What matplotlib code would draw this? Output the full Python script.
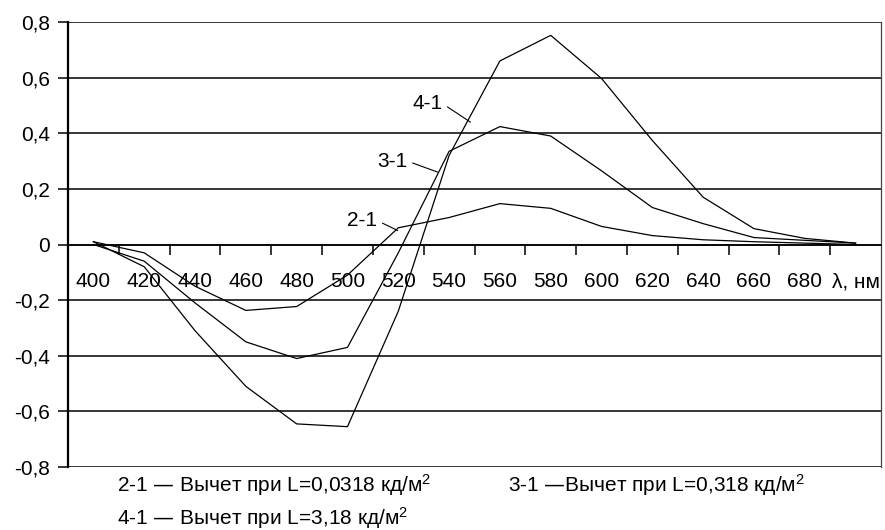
"""Difference spectra for three luminance levels (reference chart redraw)."""

import matplotlib

matplotlib.use("Agg")
import matplotlib.pyplot as plt
from matplotlib.ticker import FixedLocator, FixedFormatter

plt.rcParams["font.family"] = ["Liberation Sans", "DejaVu Sans"]
plt.rcParams["mathtext.default"] = "regular"

# categories (wavelength, nm) and the last axis caption slot
x_labels = ["400", "420", "440", "460", "480", "500", "520", "540", "560",
            "580", "600", "620", "640", "660", "680", "λ, нм"]

# series values
diff_2_1 = [0.01, -0.03, -0.15, -0.237, -0.223, -0.11, 0.06, 0.097, 0.147,
            0.13, 0.065, 0.032, 0.017, 0.01, 0.005, 0.0]
diff_3_1 = [0.0, -0.06, -0.21, -0.35, -0.41, -0.37, -0.03, 0.335, 0.424,
            0.39, 0.265, 0.133, 0.075, 0.025, 0.015, 0.005]
diff_4_1 = [0.01, -0.08, -0.31, -0.51, -0.645, -0.655, -0.24, 0.32, 0.66,
            0.752, 0.597, 0.374, 0.17, 0.057, 0.022, 0.005]

y_ticks = [-0.8, -0.6, -0.4, -0.2, 0.0, 0.2, 0.4, 0.6, 0.8]
y_tick_labels = ["-0,8", "-0,6", "-0,4", "-0,2", "0", "0,2", "0,4", "0,6", "0,8"]

legend_lines = [
    "2-1 — Вычет при L=0,0318 кд/м$^{2}$",
    "3-1 —Вычет при L=0,318 кд/м$^{2}$",
    "4-1 — Вычет при L=3,18 кд/м$^{2}$",
]

FONT = 15

fig = plt.figure(figsize=(8.85, 5.3), dpi=100)
ax = fig.add_axes([68 / 885, 63 / 530, 813 / 885, 445 / 530])

idx = list(range(len(x_labels)))
for series in (diff_2_1, diff_3_1, diff_4_1):
    ax.plot(idx, series, color="black", lw=0.9, zorder=3)

ax.set_xlim(-0.5, len(x_labels) - 0.5)
ax.set_ylim(-0.8, 0.8)

# horizontal grid lines at every y tick
ax.yaxis.set_major_locator(FixedLocator(y_ticks))
ax.yaxis.set_major_formatter(FixedFormatter(y_tick_labels))
ax.grid(axis="y", color="black", lw=1.1)
ax.set_axisbelow(True)

# category axis crossing at zero, labels between the tick marks
ax.spines["bottom"].set_position(("data", 0))
ax.spines["bottom"].set_linewidth(1.1)
ax.spines["top"].set_visible(False)
ax.spines["left"].set_linewidth(1.6)
ax.spines["right"].set_linewidth(0.9)
ax.spines["right"].set_color("#444444")
ax.xaxis.set_major_locator(FixedLocator(idx))
ax.xaxis.set_major_formatter(FixedFormatter(x_labels))
ax.xaxis.set_minor_locator(FixedLocator([i + 0.5 for i in idx[:-1]]))
ax.tick_params(axis="x", which="major", length=0, pad=20, labelsize=FONT)
ax.tick_params(axis="x", which="minor", length=7, width=1.1, direction="out")
ax.tick_params(axis="y", length=7, width=1.1, direction="out", pad=6,
               labelsize=FONT)

# curve labels with leader lines
for text, xy, xytext in (("4-1", (7.42, 0.44), (6.57, 0.507)),
                         ("3-1", (6.78, 0.26), (5.88, 0.30)),
                         ("2-1", (5.99, 0.05), (5.29, 0.086))):
    ax.annotate(text, xy=xy, xytext=xytext, ha="center", va="center",
                fontsize=FONT,
                arrowprops=dict(arrowstyle="-", color="black", lw=0.8,
                                relpos=(1.0, 0.5), shrinkA=2, shrinkB=0))

fig.text(117 / 885, 1 - 485 / 530, legend_lines[0], fontsize=FONT, va="center")
fig.text(508 / 885, 1 - 485 / 530, legend_lines[1], fontsize=FONT, va="center")
fig.text(117 / 885, 1 - 518 / 530, legend_lines[2], fontsize=FONT, va="center")

fig.savefig("out.png", dpi=100)
